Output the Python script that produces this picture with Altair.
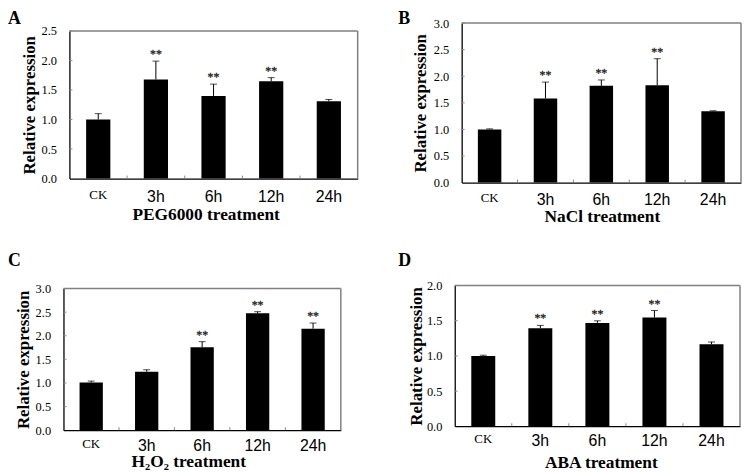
import altair as alt
import pandas as pd

cats = ["CK", "3h", "6h", "12h", "24h"]

a_mean = [1.00, 1.68, 1.40, 1.65, 1.31]
a_err = [0.10, 0.31, 0.20, 0.06, 0.03]
a_star = [False, True, True, True, False]

b_mean = [1.00, 1.58, 1.82, 1.83, 1.34]
b_err = [0.01, 0.31, 0.11, 0.50, 0.01]
b_star = [False, True, True, True, False]

c_mean = [1.01, 1.24, 1.755, 2.475, 2.15]
c_err = [0.03, 0.04, 0.12, 0.035, 0.12]
c_star = [False, False, True, True, True]

d_mean = [1.00, 1.394, 1.469, 1.545, 1.164]
d_err = [0.01, 0.04, 0.03, 0.10, 0.035]
d_star = [False, True, True, True, False]

a_ticks = [0.0, 0.5, 1.0, 1.5, 2.0, 2.5]
b_ticks = [0.0, 0.5, 1.0, 1.5, 2.0, 2.5, 3.0]
c_ticks = [0.0, 0.5, 1.0, 1.5, 2.0, 2.5, 3.0]
d_ticks = [0.0, 0.5, 1.0, 1.5, 2.0]

SERIF = "Liberation Serif"
SANS = "Liberation Sans"


def panel(letter, xtitle, means, errs, stars, ticks, vw, vh, x0, ytop,
          letter_xy, label_pad, title_pad, ytitle_pad, title_x):
    df = pd.DataFrame({
        "cat": cats,
        "mean": means,
        "upper": [m + e for m, e in zip(means, errs)],
        "star": stars,
    })
    ymax = ticks[-1]
    x1 = vw
    step = (x1 - x0) / len(cats)
    xscale = alt.Scale(domain=cats, range=[x0, x1], paddingInner=0.58, paddingOuter=0.29)
    yscale = alt.Scale(domain=[0, ymax], range=[vh, ytop], nice=False, zero=True)
    xaxis = alt.Axis(
        title=xtitle, labelAngle=0, ticks=False, tickSize=0,
        labelPadding=label_pad, titlePadding=title_pad,
        labelFont=alt.condition("datum.value == 'CK'", alt.value(SERIF), alt.value(SANS)),
        labelFontSize=alt.condition("datum.value == 'CK'", alt.value(13), alt.value(16)),
        labelColor="black", domainColor="black", domainWidth=1.3,
        titleFont=SERIF, titleFontSize=17.5, titleFontWeight="bold", titleColor="black",
        titleX=title_x, titleAlign="center",
    )
    yaxis = alt.Axis(
        title="Relative expression", values=ticks, format=".1f", grid=False,
        ticks=False, tickSize=0, labelPadding=13, labelOverlap=False,
        labelFont=SERIF, labelFontSize=12.5, labelColor="black",
        domainColor="black", domainWidth=1.3, offset=-x0,
        titleFont=SERIF, titleFontSize=17, titleFontWeight="bold", titleColor="black",
        titlePadding=ytitle_pad,
    )

    def X(field="cat:N"):
        return alt.X(field, scale=xscale, axis=xaxis)

    def Y(field):
        return alt.Y(field, scale=yscale, axis=yaxis)

    base = alt.Chart(df)
    bars = base.mark_bar(color="black").encode(x=X(), y=Y("mean:Q"))
    err = base.mark_rule(color="black", strokeWidth=1).encode(
        x=X(), y=Y("mean:Q"), y2="upper:Q")
    cap = base.mark_tick(color="black", size=7, thickness=1).encode(
        x=X(), y=Y("upper:Q"))
    star = base.transform_filter("datum.star").mark_text(
        text="**", font=SERIF, fontSize=12, fill="#222222", stroke="#222222",
        strokeWidth=0.3, baseline="alphabetic", dy=-3).encode(x=X(), y=Y("upper:Q"))
    ytk = alt.Chart(pd.DataFrame({"mean": ticks[1:]})).mark_rule(
        color="#888888", strokeWidth=1).encode(
        y=Y("mean:Q"), x=alt.value(x0), x2=alt.value(x0 + 3))
    xtk = alt.Chart(pd.DataFrame({"cat": cats[1:]})).mark_rule(
        color="#888888", strokeWidth=1, xOffset=-step / 2).encode(
        x=X(), y=alt.value(vh), y2=alt.value(vh - 3))
    frame_top = alt.Chart(pd.DataFrame({"mean": [ymax]})).mark_rule(
        color="#808080", strokeWidth=1.5).encode(
        y=Y("mean:Q"), x=alt.value(x0), x2=alt.value(x1))
    frame_right = alt.Chart(pd.DataFrame({"mean": [0.0], "upper": [ymax]})).mark_rule(
        color="#808080", strokeWidth=1.5).encode(
        y=Y("mean:Q"), y2="upper:Q", x=alt.value(x1))
    lab = alt.Chart(pd.DataFrame({"t": [letter]})).mark_text(
        font=SERIF, fontSize=18, fontWeight="bold", color="black",
        align="left", baseline="top").encode(
        text="t:N", x=alt.value(letter_xy[0]), y=alt.value(letter_xy[1]))
    return alt.layer(bars, err, cap, star, ytk, xtk, frame_top, frame_right, lab).properties(
        width=vw, height=vh)


pa = panel("A", "PEG6000 treatment", a_mean, a_err, a_star, a_ticks, 297, 157, 6, 8,
           (-56, -13), 10, 1, 3, 143.5)
pb = panel("B", "NaCl treatment", b_mean, b_err, b_star, b_ticks, 282, 161, 0, 0,
           (-64, -13), 9, 0, 4, 141.5)
pc = panel("C", "H₂O₂ treatment", c_mean, c_err, c_star, c_ticks, 280, 146, 0, 3,
           (-56, -34), 7, 0, 3, 126)
pd_ = panel("D", "ABA treatment", d_mean, d_err, d_star, d_ticks, 288, 142, 0, 0,
            (-57, -34), 6, 6, 1, 147.5)

row1 = alt.hconcat(pa, pb, spacing=40)
row2 = alt.hconcat(pc, pd_, spacing=57)
chart = alt.vconcat(row1, row2, spacing=27).properties(
    padding={"left": 0, "top": 0, "right": 0, "bottom": 0},
    background="white",
).configure_view(strokeWidth=0)

chart.save("out.html", embed_options={"renderer": "svg", "actions": False})
